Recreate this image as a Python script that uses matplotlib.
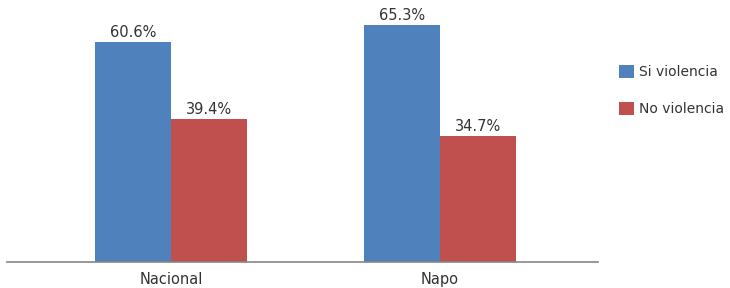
import matplotlib
matplotlib.use("Agg")
import matplotlib.pyplot as plt
import numpy as np

categories = ["Nacional", "Napo"]
series_names = ["Si violencia", "No violencia"]
si_violencia = [60.6, 65.3]
no_violencia = [39.4, 34.7]
colors = ["#4F81BD", "#C0504D"]

plt.rcParams['font.family'] = ['DejaVu Sans']
W, H = 730, 288
fig = plt.figure(figsize=(W / 100, H / 100), dpi=100)
ax = fig.add_axes([7 / W, (H - 262) / H, (598 - 7) / W, 262 / H])

x = np.arange(len(categories))
bw = 0.2825
vals = [si_violencia, no_violencia]
handles = []
for i, (name, v, c) in enumerate(zip(series_names, vals, colors)):
    offs = (i - 0.5) * bw
    b = ax.bar(x + offs, v, bw, color=c, label=name, zorder=2)
    handles.append(b)
    for xi, vi in zip(x + offs, v):
        ax.text(xi, vi + 0.6, f"{vi:.1f}%", ha="center", va="bottom",
                fontsize=10.5, color="#333333")

ax.set_xlim(-0.61, 1.587)
ax.set_ylim(0, 72.2)
ax.set_xticks(x)
ax.set_xticklabels(categories, fontsize=10.5, color="#333333")
ax.tick_params(axis="x", length=0, pad=7)
ax.set_yticks([])
for s in ["top", "right", "left"]:
    ax.spines[s].set_visible(False)
ax.spines["bottom"].set_color("#868686")
ax.spines["bottom"].set_linewidth(1.2)

fig.legend(handles=handles, labels=series_names, loc="upper left",
           bbox_to_anchor=(606 / W, 1 - 52 / H), frameon=False,
           fontsize=10, handlelength=1.1, handleheight=1.1,
           handletextpad=0.4, labelspacing=1.65, labelcolor="#333333")

fig.savefig("out.png", dpi=100)
